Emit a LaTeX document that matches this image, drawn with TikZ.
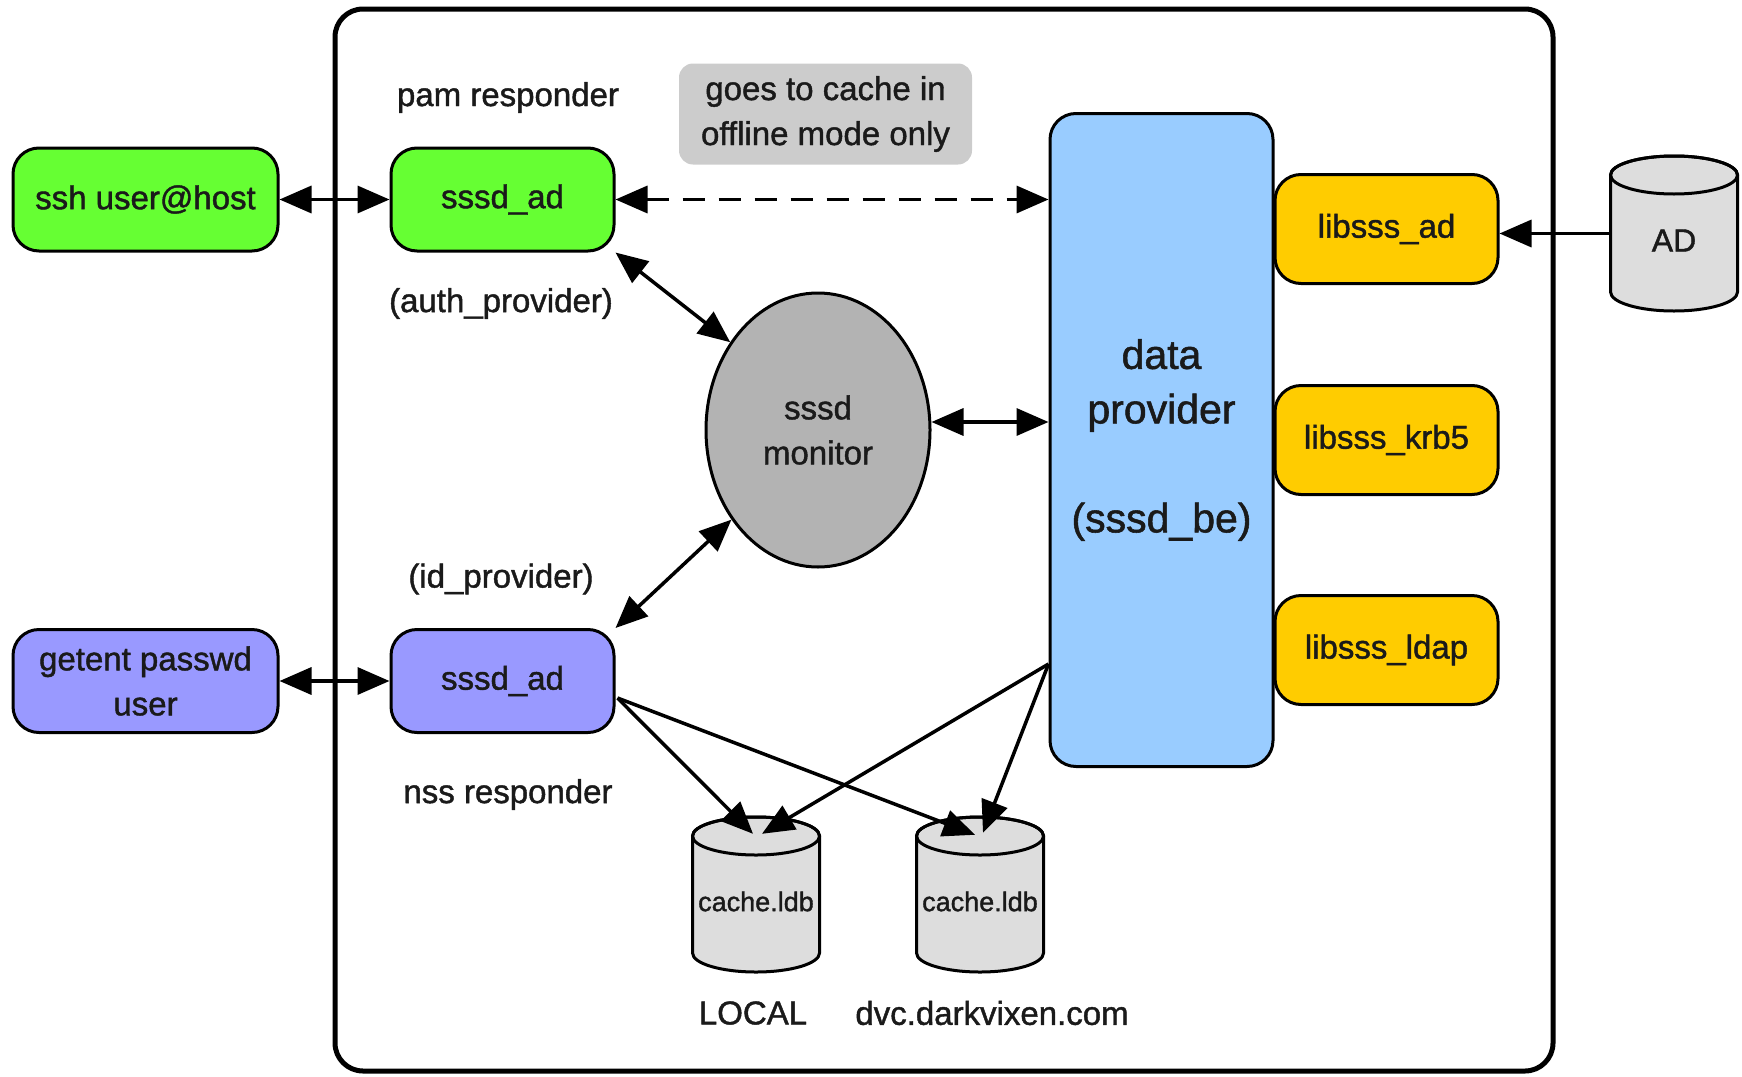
\documentclass[tikz,border=0pt]{standalone}
\usepackage{fontspec}
\setmainfont{Liberation Sans}[FakeBold=1.3]
\usetikzlibrary{arrows.meta,calc,shapes.geometric}

\definecolor{cgreen}{HTML}{66FF33}
\definecolor{cpurple}{HTML}{9999FF}
\definecolor{cblue}{HTML}{99CCFF}
\definecolor{cyellow}{HTML}{FFCC00}
\definecolor{cnote}{HTML}{CCCCCC}
\definecolor{cmon}{HTML}{B3B3B3}
\definecolor{ccyl}{HTML}{DDDDDD}
\definecolor{ctext}{HTML}{1A1A1A}

\newcommand\dbcyl[5]{%
  \pgfmathsetmacro\cxl{#2-63.5}\pgfmathsetmacro\cxr{#2+63.5}%
  \pgfmathsetmacro\cyt{#3-58.5}\pgfmathsetmacro\cyb{#3+58.5}%
  \filldraw[fill=ccyl, line width=3pt] (\cxl,\cyt) -- (\cxl,\cyb)
     arc[start angle=180,end angle=360,x radius=63.5pt,y radius=19pt]
     -- (\cxr,\cyt)
     arc[start angle=0,end angle=180,x radius=63.5pt,y radius=19pt] -- cycle;
  \draw[line width=3pt] (#2,\cyt) ellipse[x radius=63.5pt, y radius=19pt];
  \node[minimum width=127pt, minimum height=155pt, inner sep=0pt] (#1) at (#2,#3) {};
  \node[inner sep=0pt, font=#5] (#1-t) at (#2,#3+7) {#4};
}

\begin{document}
\begin{tikzpicture}[x=1pt,y=-1pt,
  every node/.style={font=\fontsize{33}{45}\selectfont, align=center, text=ctext},
  box/.style={draw, line width=3pt, rounded corners=26pt, minimum width=223pt, minimum height=103pt, inner sep=0pt},
  tipA/.tip={Triangle[length=32pt,width=27pt]},
  conn/.style={line width=3.5pt, -tipA},
  biconn/.style={line width=3.5pt, tipA-tipA},
  lbl/.style={inner sep=0pt}
]
\useasboundingbox (0,0) rectangle (1742,1076);

% frame
\draw[line width=5pt, rounded corners=28pt] (335,9) rectangle (1553,1071);

% boxes
\node[box, fill=cgreen, minimum width=265pt] (ssh) at (145.5,199.5) {ssh user@host};
\node[box, fill=cgreen] (pam) at (502.5,199.5) {sssd\_ad};
\node[box, fill=cpurple, minimum width=265pt] (getent) at (145.5,681) {getent passwd\\user};
\node[box, fill=cpurple] (nss) at (502.5,681) {sssd\_ad};
\node[fill=cnote, rounded corners=14pt, minimum width=293pt, minimum height=101pt, inner sep=0pt] (note) at (825.5,114) {goes to cache in\\offline mode only};
\node[draw, line width=3pt, fill=cblue, rounded corners=26pt, minimum width=223pt, minimum height=653pt, inner sep=0pt, font=\fontsize{41}{54.5}\selectfont] (dp) at (1161.5,440) {data\\provider\\[54.5pt](sssd\_be)};
\node[box, fill=cyellow, minimum height=109pt] (lad) at (1386.5,229) {libsss\_ad};
\node[box, fill=cyellow, minimum height=109pt] (lkrb) at (1386.5,440) {libsss\_krb5};
\node[box, fill=cyellow, minimum height=109pt] (lldap) at (1386.5,650) {libsss\_ldap};
\node[draw, ellipse, line width=3pt, fill=cmon, minimum width=224pt, minimum height=274pt, inner sep=0pt] (mon) at (818,430) {sssd\\monitor};

% cylinders
\dbcyl{ad}{1674}{233.5}{AD}{\fontsize{32}{36}\selectfont}
\dbcyl{c1}{756}{894.5}{cache.ldb}{\fontsize{27}{32}\selectfont}
\dbcyl{c2}{980}{894.5}{cache.ldb}{\fontsize{27}{32}\selectfont}

% labels
\node[lbl] (pamlbl) at (508,97.5) {pam responder};
\node[lbl] (authlbl) at (501,303.5) {(auth\_provider)};
\node[lbl] (idlbl) at (501,579) {(id\_provider)};
\node[lbl] (nsslbl) at (508,794.5) {nss responder};
\node[lbl] (loclbl) at (753,1013) {LOCAL};
\node[lbl] (dvclbl) at (992,1013) {dvc.darkvixen.com};

% helper coordinates
\coordinate (me) at ($(mon.east)+(0,-8)$);
\coordinate (ns) at ($(nss.east)+(2,17)$);
\coordinate (ds) at ($(dp.west)+(0,224)$);
\coordinate (c1a) at ($(c1.north)+(-3,17)$);
\coordinate (c1b) at ($(c1.north)+(6,17)$);
\coordinate (c2a) at ($(c2.north)+(-5,18)$);
\coordinate (c2b) at ($(c2.north)+(3,16)$);

% connectors
\draw[biconn] (ssh) -- (pam);
\draw[biconn] (getent) -- (nss);
\draw[biconn, dash pattern=on 22pt off 14pt] (pam.east) -- (pam.east -| dp.west);
\draw[biconn] (pam.south east) -- (mon.135);
\draw[biconn] (nss.north east) -- (mon.226);
\draw[biconn] (me) -- (me -| dp.west);
\draw[conn] (ad.west) -- (ad.west -| lad.east);
\draw[conn] (ns) -- (c1a);
\draw[conn] (ns) -- (c2a);
\draw[conn] (ds) -- (c1b);
\draw[conn] (ds) -- (c2b);
\end{tikzpicture}
\end{document}
